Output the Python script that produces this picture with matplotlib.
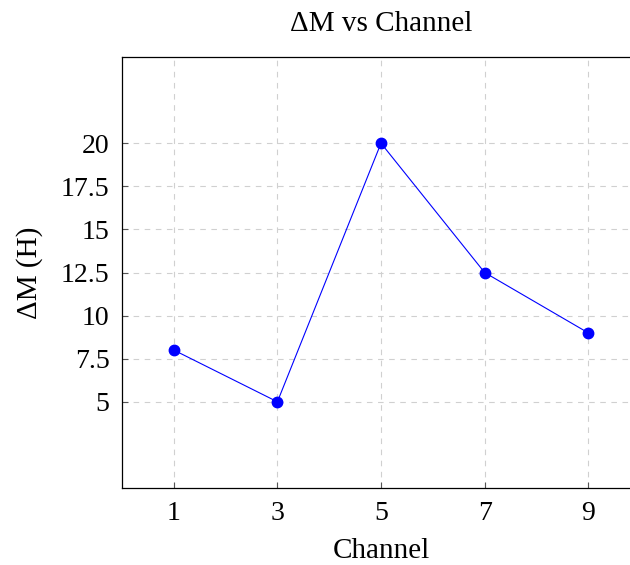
import matplotlib.pyplot as plt

# データ
channels = [1, 3, 5, 7, 9]
delta_m = [8, 5, 20, 12.5, 9]
y_ticks = [5, 7.5, 10, 12.5, 15, 17.5, 20]
y_labels = ["5", "7.5", "10", "12.5", "15", "17.5", "20"]

plt.rcParams['font.family'] = ['Liberation Serif', 'DejaVu Serif']

fig = plt.figure(figsize=(6.3, 5.65), dpi=100)
ax = fig.add_axes([122 / 630, 77 / 565, 518 / 630, 431 / 565])

ax.plot(channels, delta_m, color='blue', linewidth=0.8, marker='o', markersize=7.5)

ax.set_xlim(0, 10)
ax.set_ylim(0, 25)
ax.set_xticks(channels)
ax.set_yticks(y_ticks)
ax.set_yticklabels(y_labels)

# グリッド
ax.grid(True, color='#d0d0d0', linestyle=(0, (5, 5)), linewidth=0.8)
ax.set_axisbelow(True)
ax.tick_params(direction='in', length=4, width=0.8, color='#555555', labelsize=20, pad=9)

for s in ax.spines.values():
    s.set_linewidth(0.9)

ax.set_title("ΔM vs Channel", fontsize=21, pad=19)
ax.set_xlabel("Channel", fontsize=21, labelpad=9)
ax.set_ylabel("ΔM (H)", fontsize=21, labelpad=13)

fig.savefig("out.png", dpi=100)
